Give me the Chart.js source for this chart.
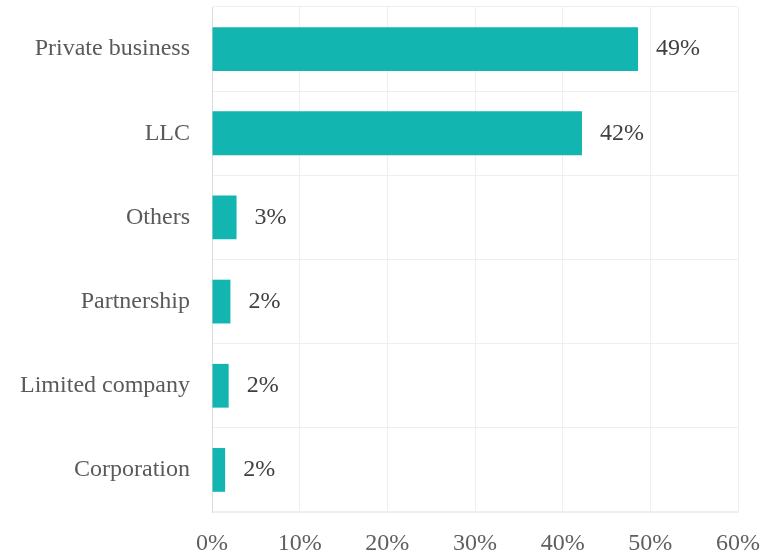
<!DOCTYPE html>
<html>
<head>
<meta charset="utf-8">
<script src="https://cdn.jsdelivr.net/npm/chart.js@4/dist/chart.umd.min.js"></script>
<style>
  html, body { margin: 0; padding: 0; background: #fff; }
  #wrap { width: 762px; height: 557px; position: relative; }
</style>
</head>
<body>
<div id="wrap"><canvas id="c"></canvas></div>
<script>
// Business types and their share of respondents (%)
const categories = ["Private business", "LLC", "Others", "Partnership", "Limited company", "Corporation"];
const shares = [48.6, 42.2, 2.8, 2.1, 1.9, 1.5];
const tickValues = [0, 10, 20, 30, 40, 50, 60];

const FONT = "'Liberation Serif', 'Times New Roman', serif";

// Writes the rounded percentage just past the end of each bar
const valueLabels = {
  id: 'valueLabels',
  afterDatasetsDraw(chart) {
    const ctx = chart.ctx;
    const meta = chart.getDatasetMeta(0);
    ctx.save();
    ctx.font = "24px " + FONT;
    ctx.fillStyle = "#404040";
    ctx.textAlign = "left";
    ctx.textBaseline = "middle";
    meta.data.forEach((bar, i) => {
      ctx.fillText(Math.round(shares[i]) + "%", bar.x + 18, bar.y);
    });
    ctx.restore();
  }
};

new Chart(document.getElementById('c'), {
  type: 'bar',
  data: {
    labels: categories,
    datasets: [{
      data: shares,
      backgroundColor: '#13b5b1',
      borderWidth: 0,
      categoryPercentage: 1,
      barPercentage: 0.52
    }]
  },
  options: {
    indexAxis: 'y',
    responsive: true,
    maintainAspectRatio: false,
    animation: false,
    events: [],
    layout: { padding: { top: 7, right: 24, bottom: 0, left: 0 } },
    plugins: { legend: { display: false }, tooltip: { enabled: false } },
    scales: {
      x: {
        min: 0,
        max: 60,
        afterBuildTicks(scale) {
          scale.ticks = tickValues.map(v => ({ value: v }));
        },
        afterFit(scale) {
          scale.height = 45;
          scale.paddingLeft = 0;
          scale.paddingRight = 0;
        },
        ticks: {
          callback: v => v + '%',
          font: { family: FONT, size: 24 },
          color: '#5f5f5f',
          padding: 17,
          maxRotation: 0
        },
        grid: { color: '#efefef', lineWidth: 1, drawTicks: false },
        border: { display: true, color: '#efefef' }
      },
      y: {
        ticks: {
          font: { family: FONT, size: 24 },
          color: '#5a5a5a',
          padding: 22
        },
        afterFit(scale) {
          scale.width = 212;
          scale.paddingTop = 0;
          scale.paddingBottom = 0;
        },
        grid: { color: '#efefef', lineWidth: 1, drawTicks: false },
        border: { display: true, color: '#dcdcdc' }
      }
    }
  },
  plugins: [valueLabels]
});
</script>
</body>
</html>
